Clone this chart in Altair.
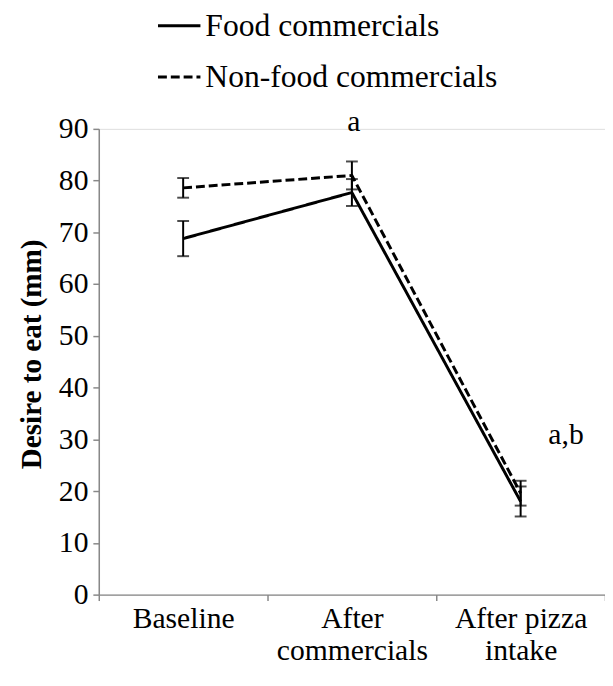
import altair as alt
import pandas as pd

categories = ["Baseline", "After commercials", "After pizza intake"]
series = ["Food commercials", "Non-food commercials"]
food_mean = [68.8, 77.7, 18.0]
food_se = [3.4, 2.6, 2.9]
nonfood_mean = [78.6, 81.0, 19.6]
nonfood_se = [1.9, 2.7, 2.4]
annot_cat = ["After commercials", "After pizza intake"]
annot_text = ["a", "a,b"]
annot_y = [90.6, 30.1]

rows = []
for s, means, ses in [(series[0], food_mean, food_se), (series[1], nonfood_mean, nonfood_se)]:
    for c, m, e in zip(categories, means, ses):
        rows.append({"cat": c, "series": s, "mean": m, "lo": m - e, "hi": m + e})
df = pd.DataFrame(rows)
ann = pd.DataFrame({"cat": annot_cat, "text": annot_text, "y": annot_y})

FONT = "Liberation Serif, Times New Roman, serif"

x = alt.X(
    "cat:N",
    sort=categories,
    scale=alt.Scale(type="band", paddingInner=0, paddingOuter=0),
    axis=alt.Axis(
        title=None,
        labelAngle=0,
        tickBand="extent",
        labelExpr="datum.value == 'After commercials' ? ['After', 'commercials'] : datum.value == 'After pizza intake' ? ['After pizza', 'intake'] : datum.value",
        labelFont=FONT,
        labelFontSize=30,
        labelColor="black",
        labelPadding=3,
        labelLineHeight=33,
        domainColor="#888888",
        tickColor="#888888",
        tickSize=6,
        domainWidth=1.5,
        tickWidth=1.5,
    ),
)
yscale = alt.Scale(domain=[0, 90], nice=False)

lines = alt.Chart(df).mark_line(color="black", strokeWidth=3).encode(
    x=x,
    y=alt.Y(
        "mean:Q",
        scale=yscale,
        axis=alt.Axis(
            title="Desire to eat (mm)",
            titleFont=FONT,
            titleFontSize=29.5,
            titleFontWeight="bold",
            titleColor="black",
            titlePadding=12,
            titleY=228,
            values=list(range(0, 91, 10)),
            labelFont=FONT,
            labelFontSize=30,
            labelColor="black",
            labelPadding=5,
            grid=False,
            domainColor="#888888",
            tickColor="#888888",
            tickSize=6,
            domainWidth=1.5,
            tickWidth=1.5,
        ),
    ),
    strokeDash=alt.StrokeDash(
        "series:N",
        scale=alt.Scale(domain=series, range=[[1, 0], [9, 4]]),
        legend=alt.Legend(
            title=None,
            orient="none",
            legendX=58,
            legendY=-128,
            direction="vertical",
            symbolType="stroke",
            symbolSize=1850,
            symbolStrokeWidth=3,
            symbolStrokeColor="black",
            labelFont=FONT,
            labelFontSize=32,
            labelColor="black",
            labelOffset=3,
            labelLimit=500,
            rowPadding=12,
        ),
    ),
)

rules = alt.Chart(df).mark_rule(color="black", strokeWidth=2).encode(
    x=alt.X("cat:N", sort=categories), y=alt.Y("lo:Q", scale=yscale), y2="hi:Q"
)
cap_lo = alt.Chart(df).mark_tick(color="black", thickness=2, size=12).encode(
    x=alt.X("cat:N", sort=categories), y=alt.Y("lo:Q", scale=yscale)
)
cap_hi = alt.Chart(df).mark_tick(color="black", thickness=2, size=12).encode(
    x=alt.X("cat:N", sort=categories), y=alt.Y("hi:Q", scale=yscale)
)
label_a = alt.Chart(ann).transform_filter(alt.datum.text == "a").mark_text(
    font=FONT, fontSize=30, color="black", dx=2, dy=-4
).encode(x=alt.X("cat:N", sort=categories), y=alt.Y("y:Q", scale=yscale), text="text:N")
label_ab = alt.Chart(ann).transform_filter(alt.datum.text == "a,b").mark_text(
    font=FONT, fontSize=30, color="black", dx=46, dy=-4
).encode(x=alt.X("cat:N", sort=categories), y=alt.Y("y:Q", scale=yscale), text="text:N")

chart = (
    alt.layer(lines, rules, cap_lo, cap_hi, label_a, label_ab)
    .properties(
        width=513,
        height=472,
        autosize=alt.AutoSizeParams(type="none"),
        padding={"left": 92, "top": 118, "right": 0, "bottom": 80},
    )
    .configure_view(stroke=None)
    .configure(background="white")
)

chart.save("out.html", embed_options={"renderer": "svg", "actions": False})
